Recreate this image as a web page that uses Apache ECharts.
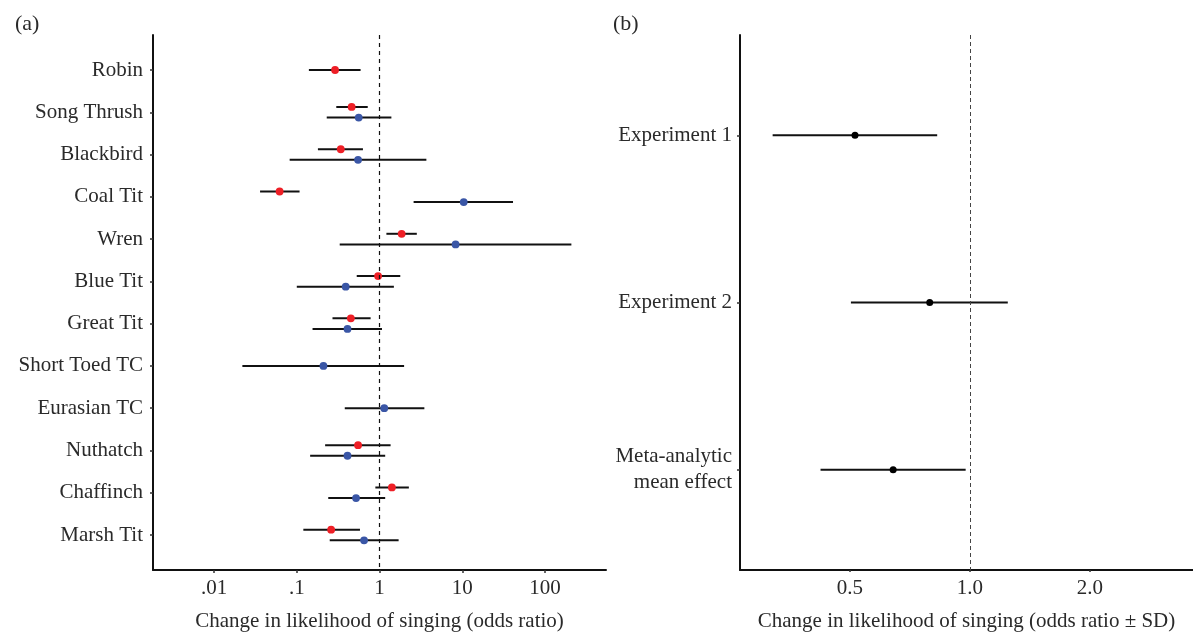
<!DOCTYPE html>
<html><head><meta charset="utf-8">
<script src="https://cdn.jsdelivr.net/npm/echarts@6/dist/echarts.min.js"></script>
<style>html,body{margin:0;padding:0;background:#fff}#c{width:1193px;height:633px}</style>
</head><body><div id="c"></div>
<script>
// ---------- Panel (a) data ----------
const species = ['Robin','Song Thrush','Blackbird','Coal Tit','Wren','Blue Tit','Great Tit','Short Toed TC','Eurasian TC','Nuthatch','Chaffinch','Marsh Tit'];
const redEst = [0.29, 0.46, 0.34, 0.062, 1.85, 0.96, 0.45, null, null, 0.55, 1.41, 0.26];
const redLo  = [0.14, 0.30, 0.18, 0.036, 1.21, 0.53, 0.27, null, null, 0.22, 0.89, 0.12];
const redHi  = [0.59, 0.72, 0.63, 0.108, 2.82, 1.78, 0.78, null, null, 1.36, 2.26, 0.58];
const blueEst = [null, 0.56, 0.55, 10.4, 8.3, 0.39, 0.41, 0.21, 1.14, 0.41, 0.52, 0.65];
const blueLo  = [null, 0.23, 0.082, 2.58, 0.33, 0.10, 0.155, 0.022, 0.38, 0.145, 0.24, 0.25];
const blueHi  = [null, 1.39, 3.68, 41, 208, 1.49, 1.07, 1.98, 3.48, 1.17, 1.17, 1.70];
const xTicksA = [0.01, 0.1, 1, 10, 100];
const xTickLabelsA = ['.01', '.1', '1', '10', '100'];

// ---------- Panel (b) data ----------
const experiments = ['Experiment 1', 'Experiment 2', 'Meta-analytic\nmean effect'];
const expEst = [0.515, 0.793, 0.642];
const expLo  = [0.320, 0.503, 0.422];
const expHi  = [0.828, 1.245, 0.976];
const xTicksB = [0.5, 1, 2];
const xTickLabelsB = ['0.5', '1.0', '2.0'];

const refLine = 1;

// ---------- styling ----------
const FONT = "'Liberation Serif', 'Times New Roman', serif";
const TXT = '#2a2a2a';
const RED = '#EE1F26';
const BLUE = '#3A56A6';
const DODGE = 5.3;
const FS = 21;

function rows(lo, est, hi, other, dir) {
  const out = [];
  for (let i = 0; i < est.length; i++) {
    if (est[i] == null) continue;
    const dodge = (other && other[i] != null) ? dir : 0;
    out.push([lo[i], est[i], hi[i], i, dodge]);
  }
  return out;
}

function makeRender(color, r) {
  return function (params, api) {
    const y0 = api.value(3);
    const pLo = api.coord([api.value(0), y0]);
    const pEst = api.coord([api.value(1), y0]);
    const pHi = api.coord([api.value(2), y0]);
    const y = pEst[1] + api.value(4) * DODGE;
    return {
      type: 'group',
      children: [
        { type: 'line', shape: { x1: pLo[0], y1: y, x2: pHi[0], y2: y }, style: { stroke: '#111', lineWidth: 2 } },
        { type: 'circle', shape: { cx: pEst[0], cy: y, r: r }, style: { fill: color } }
      ]
    };
  };
}

function lookupLabel(ticks, labels) {
  return function (v) {
    for (let i = 0; i < ticks.length; i++) {
      if (Math.abs(Math.log(v) - Math.log(ticks[i])) < 1e-6) return labels[i];
    }
    return '';
  };
}

const axisLineStyle = { show: true, onZero: false, lineStyle: { color: '#111', width: 2 } };

const chart = echarts.init(document.getElementById('c'), null, { renderer: 'canvas' });
const option = {
  animation: false,
  backgroundColor: '#fff',
  textStyle: { fontFamily: FONT },
  title: [
    { text: '(a)', left: 10, top: 8, textStyle: { fontFamily: FONT, fontSize: 22, fontWeight: 'normal', color: TXT } },
    { text: '(b)', left: 608, top: 8, textStyle: { fontFamily: FONT, fontSize: 22, fontWeight: 'normal', color: TXT } }
  ],
  grid: [
    { left: 153, top: 35, width: 453, height: 535, outerBoundsMode: 'none', containLabel: false },
    { left: 740, top: 35, width: 453, height: 535, outerBoundsMode: 'none', containLabel: false }
  ],
  xAxis: [
    {
      type: 'log', gridIndex: 0, logBase: 10, min: 0.00183, max: 545,
      axisLine: axisLineStyle,
      axisTick: { show: true, length: 3, lineStyle: { color: '#333', width: 1.5 }, customValues: xTicksA },
      axisLabel: { customValues: xTicksA, formatter: lookupLabel(xTicksA, xTickLabelsA), fontFamily: FONT, fontSize: FS, color: TXT, margin: 8 },
      splitLine: { show: false },
      name: 'Change in likelihood of singing (odds ratio)', nameLocation: 'middle', nameGap: 41,
      nameTextStyle: { fontFamily: FONT, fontSize: FS, color: TXT }
    },
    {
      type: 'log', gridIndex: 1, logBase: 2, min: 0.265, max: 3.63,
      axisLine: axisLineStyle,
      axisTick: { show: true, length: 2, lineStyle: { color: '#333', width: 1.5 }, customValues: xTicksB },
      axisLabel: { customValues: xTicksB, formatter: lookupLabel(xTicksB, xTickLabelsB), fontFamily: FONT, fontSize: FS, color: TXT, margin: 8 },
      splitLine: { show: false },
      name: 'Change in likelihood of singing (odds ratio \u00b1 SD)', nameLocation: 'middle', nameGap: 41,
      nameTextStyle: { fontFamily: FONT, fontSize: FS, color: TXT }
    }
  ],
  yAxis: [
    {
      type: 'value', gridIndex: 0, inverse: true, min: -0.828, max: species.length - 1 + 0.828,
      axisLine: axisLineStyle,
      axisTick: { show: true, length: 3, lineStyle: { color: '#333', width: 1.5 }, customValues: species.map((s, i) => i) },
      axisLabel: { customValues: species.map((s, i) => i), formatter: v => species[Math.round(v)], fontFamily: FONT, fontSize: FS, color: TXT, margin: 10 },
      splitLine: { show: false }
    },
    {
      type: 'value', gridIndex: 1, inverse: true, min: -0.6, max: experiments.length - 1 + 0.6,
      axisLine: axisLineStyle,
      axisTick: { show: true, length: 3, lineStyle: { color: '#333', width: 1.5 }, customValues: experiments.map((s, i) => i) },
      axisLabel: { customValues: experiments.map((s, i) => i), formatter: v => experiments[Math.round(v)], fontFamily: FONT, fontSize: FS, color: TXT, margin: 8, lineHeight: 26, align: 'right' },
      splitLine: { show: false }
    }
  ],
  series: [
    {
      type: 'custom', name: 'red', xAxisIndex: 0, yAxisIndex: 0,
      data: rows(redLo, redEst, redHi, blueEst, -1),
      encode: { x: [0, 1, 2], y: 3 },
      renderItem: makeRender(RED, 3.9),
      z: 3,
      markLine: {
        silent: true, symbol: ['none', 'none'], label: { show: false },
        lineStyle: { type: [4, 4], color: '#111', width: 1.2 },
        data: [{ xAxis: refLine }]
      }
    },
    {
      type: 'custom', name: 'blue', xAxisIndex: 0, yAxisIndex: 0,
      data: rows(blueLo, blueEst, blueHi, redEst, 1),
      encode: { x: [0, 1, 2], y: 3 },
      renderItem: makeRender(BLUE, 3.9),
      z: 3
    },
    {
      type: 'custom', name: 'experiments', xAxisIndex: 1, yAxisIndex: 1,
      data: rows(expLo, expEst, expHi, null, 0),
      encode: { x: [0, 1, 2], y: 3 },
      renderItem: makeRender('#000', 3.5),
      z: 3,
      markLine: {
        silent: true, symbol: ['none', 'none'], label: { show: false },
        lineStyle: { type: [4, 3], color: '#444', width: 1 },
        data: [{ xAxis: refLine }]
      }
    }
  ]
};
chart.setOption(option);
</script>
</body></html>
